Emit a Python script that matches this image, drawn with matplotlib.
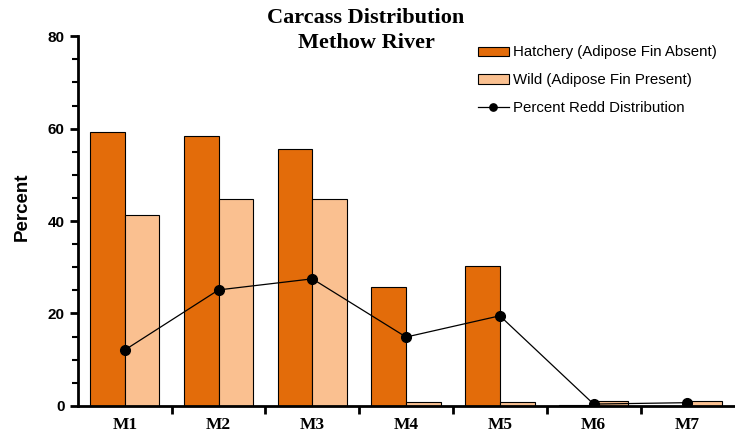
import matplotlib.pyplot as plt
import numpy as np
from matplotlib.ticker import MultipleLocator, FixedLocator

# Carcass distribution data (percent)
sections = ['M1', 'M2', 'M3', 'M4', 'M5', 'M6', 'M7']
hatchery = [59.2, 58.4, 55.6, 25.7, 30.3, 0.2, 0.0]
wild = [41.3, 44.8, 44.8, 0.9, 0.9, 1.1, 1.1]
redd = [12.1, 25.1, 27.5, 14.9, 19.5, 0.4, 0.7]

hatcheryColor = '#E36C0A'
wildColor = '#FAC090'

fig = plt.figure(figsize=(7.35, 4.36), dpi=100)
ax = fig.add_axes([0.106, 0.069, 0.893, 0.848])

x = np.arange(len(sections))
barWidth = 0.37
hBars = ax.bar(x - barWidth / 2, hatchery, barWidth, color=hatcheryColor,
               edgecolor='black', linewidth=0.8, zorder=2)
wBars = ax.bar(x + barWidth / 2, wild, barWidth, color=wildColor,
               edgecolor='black', linewidth=0.8, zorder=2)
reddLine, = ax.plot(x, redd, color='black', linewidth=0.9, marker='o', markersize=7, zorder=3)

ax.set_xlim(-0.5, len(sections) - 0.5)
ax.set_ylim(0, 80)

# axes styling
for side in ['top', 'right']:
    ax.spines[side].set_visible(False)
for side in ['left', 'bottom']:
    ax.spines[side].set_linewidth(2)

ax.yaxis.set_major_locator(MultipleLocator(20))
ax.yaxis.set_minor_locator(MultipleLocator(5))
ax.tick_params(axis='y', which='major', length=6, width=2, direction='out')
ax.tick_params(axis='y', which='minor', length=4, width=1.5, direction='out')
for lbl in ax.get_yticklabels():
    lbl.set_fontfamily('Liberation Sans')
    lbl.set_fontweight('bold')
    lbl.set_fontsize(11)

ax.set_xticks(x)
ax.set_xticklabels(sections, fontfamily='Liberation Serif', fontweight='bold', fontsize=12.5)
ax.xaxis.set_minor_locator(FixedLocator(np.arange(0.5, len(sections) - 0.5, 1)))
ax.tick_params(axis='x', which='major', length=0, pad=8)
ax.tick_params(axis='x', which='minor', length=6, width=2, direction='out')

ax.set_ylabel('Percent', fontfamily='Liberation Sans', fontweight='bold', fontsize=13.5)
ax.yaxis.set_label_coords(-0.072, 0.54)

fig.text(0.498, 0.982, 'Carcass Distribution\nMethow River', ha='center', va='top',
         fontfamily='Liberation Serif', fontweight='bold', fontsize=16, linespacing=1.35)

ax.legend([hBars, wBars, reddLine],
          ['Hatchery (Adipose Fin Absent)', 'Wild (Adipose Fin Present)', 'Percent Redd Distribution'],
          loc='upper left', bbox_to_anchor=(0.650, 0.896), bbox_transform=fig.transFigure,
          frameon=False, borderpad=0, borderaxespad=0,
          prop={'family': 'Liberation Sans', 'size': 10.8},
          handlelength=2.07, handleheight=0.55, labelspacing=0.93, handletextpad=0.3,
          markerscale=0.75)

fig.savefig('out.png', dpi=100)
